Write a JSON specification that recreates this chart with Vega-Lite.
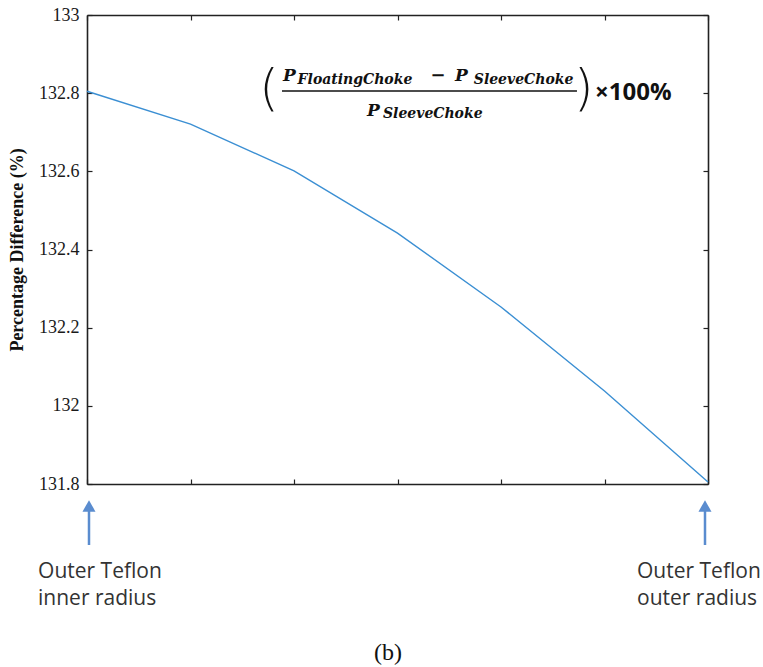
{
  "$schema": "https://vega.github.io/schema/vega-lite/v6.json",
  "autosize": {"type": "none"},
  "width": 621,
  "height": 469,
  "padding": {"left": 87, "top": 15, "right": 55, "bottom": 183},
  "background": "white",
  "config": {"view": {"stroke": null}},
  "datasets": {
    "series": [
      {"pos": 0, "pct": 132.805},
      {"pos": 1, "pct": 132.721},
      {"pos": 2, "pct": 132.601},
      {"pos": 3, "pct": 132.442},
      {"pos": 4, "pct": 132.253},
      {"pos": 5, "pct": 132.038},
      {"pos": 6, "pct": 131.805}
    ],
    "mainP": [
      {"x": 1.894, "y": 132.831, "t": "P"},
      {"x": 3.556, "y": 132.831, "t": "P"},
      {"x": 2.705, "y": 132.7416, "t": "P"}
    ],
    "minus": [{"x": 3.391, "y": 132.831, "t": "−"}],
    "subs": [
      {"x": 2.035, "y": 132.8235, "t": "FloatingChoke"},
      {"x": 3.737, "y": 132.8235, "t": "SleeveChoke"},
      {"x": 2.86, "y": 132.7365, "t": "SleeveChoke"}
    ],
    "frac": [{"x": 1.884, "x2": 4.734, "y": 132.8055}],
    "parens": [
      {"x": 1.758, "y": 132.7697, "t": "("},
      {"x": 4.8, "y": 132.7697, "t": ")"}
    ],
    "times": [{"x": 4.909, "y": 132.7825, "t": "×100%"}],
    "shafts": [
      {"x": 0.0193, "y": 131.6439, "y2": 131.7386},
      {"x": 5.971, "y": 131.6439, "y2": 131.7386}
    ],
    "heads": [
      {"x": 0.0193, "y": 131.7437},
      {"x": 5.971, "y": 131.7437}
    ],
    "labels": [
      {"x": -0.473, "y": 131.5595, "t": "Outer Teflon\ninner radius"},
      {"x": 5.314, "y": 131.5595, "t": "Outer Teflon\nouter radius"}
    ],
    "caption": [{"x": 2.908, "y": 131.3497, "t": "(b)"}]
  },
  "resolve": {"axis": {"x": "independent", "y": "independent"}},
  "layer": [
    {
      "data": {"name": "series"},
      "mark": {"type": "line", "color": "#3b8fd3", "strokeWidth": 1.4},
      "encoding": {
        "x": {"field": "pos", "type": "quantitative",
              "scale": {"domain": [0, 6], "nice": false, "zero": false},
              "axis": {"orient": "bottom", "values": [0,1,2,3,4,5,6], "labels": false, "title": null, "grid": false,
                       "domainColor": "#222", "domainWidth": 1.6, "tickColor": "#222", "tickSize": -5, "tickWidth": 1.2}},
        "y": {"field": "pct", "type": "quantitative",
              "scale": {"domain": [131.8, 133], "nice": false, "zero": false},
              "axis": {"orient": "left", "values": [131.8,132,132.2,132.4,132.6,132.8,133], "format": "~f", "grid": false,
                       "title": "Percentage Difference (%)", "titleFont": "Liberation Serif", "titleFontSize": 18, "titleFontWeight": "bold", "titleColor": "#111", "titlePadding": 12,
                       "labelFont": "Liberation Serif", "labelFontSize": 18, "labelColor": "#1a1a1a", "labelPadding": 13,
                       "domainColor": "#222", "domainWidth": 1.6, "tickColor": "#222", "tickSize": -5, "tickWidth": 1.2}}
      }
    },
    {
      "data": {"name": "series"},
      "mark": {"type": "line", "strokeOpacity": 0},
      "encoding": {
        "x": {"field": "pos", "type": "quantitative",
              "axis": {"orient": "top", "values": [0,1,2,3,4,5,6], "labels": false, "title": null, "grid": false,
                       "domainColor": "#222", "domainWidth": 1.6, "tickColor": "#222", "tickSize": -5, "tickWidth": 1.2}},
        "y": {"field": "pct", "type": "quantitative",
              "axis": {"orient": "right", "values": [131.8,132,132.2,132.4,132.6,132.8,133], "labels": false, "title": null, "grid": false,
                       "domainColor": "#222", "domainWidth": 1.6, "tickColor": "#222", "tickSize": -5, "tickWidth": 1.2}}
      }
    },
    {
      "data": {"name": "frac"},
      "mark": {"type": "rule", "color": "#111", "strokeWidth": 1.6},
      "encoding": {
        "x": {"field": "x", "type": "quantitative", "axis": null},
        "x2": {"field": "x2"},
        "y": {"field": "y", "type": "quantitative", "axis": null}
      }
    },
    {
      "data": {"name": "mainP"},
      "mark": {"type": "text", "font": "DejaVu Serif", "fontSize": 17, "fontWeight": "bold", "fontStyle": "italic", "align": "left", "baseline": "alphabetic", "color": "#111"},
      "encoding": {
        "x": {"field": "x", "type": "quantitative", "axis": null},
        "y": {"field": "y", "type": "quantitative", "axis": null},
        "text": {"field": "t", "type": "nominal"}
      }
    },
    {
      "data": {"name": "minus"},
      "mark": {"type": "text", "font": "DejaVu Serif", "fontSize": 18, "fontWeight": "bold", "align": "center", "baseline": "alphabetic", "color": "#111"},
      "encoding": {
        "x": {"field": "x", "type": "quantitative", "axis": null},
        "y": {"field": "y", "type": "quantitative", "axis": null},
        "text": {"field": "t", "type": "nominal"}
      }
    },
    {
      "data": {"name": "subs"},
      "mark": {"type": "text", "font": "DejaVu Serif", "fontSize": 14, "fontWeight": "bold", "fontStyle": "italic", "align": "left", "baseline": "alphabetic", "color": "#111"},
      "encoding": {
        "x": {"field": "x", "type": "quantitative", "axis": null},
        "y": {"field": "y", "type": "quantitative", "axis": null},
        "text": {"field": "t", "type": "nominal"}
      }
    },
    {
      "data": {"name": "parens"},
      "mark": {"type": "text", "font": "DejaVu Sans", "fontSize": 50, "fontWeight": 200, "align": "center", "baseline": "alphabetic", "color": "#111"},
      "encoding": {
        "x": {"field": "x", "type": "quantitative", "axis": null},
        "y": {"field": "y", "type": "quantitative", "axis": null},
        "text": {"field": "t", "type": "nominal"}
      }
    },
    {
      "data": {"name": "times"},
      "mark": {"type": "text", "font": "Open Sans", "fontSize": 24, "fontWeight": "bold", "align": "left", "baseline": "alphabetic", "color": "#111"},
      "encoding": {
        "x": {"field": "x", "type": "quantitative", "axis": null},
        "y": {"field": "y", "type": "quantitative", "axis": null},
        "text": {"field": "t", "type": "nominal"}
      }
    },
    {
      "data": {"name": "shafts"},
      "mark": {"type": "rule", "color": "#5a8ccf", "strokeWidth": 2.5},
      "encoding": {
        "x": {"field": "x", "type": "quantitative", "axis": null},
        "y": {"field": "y", "type": "quantitative", "axis": null},
        "y2": {"field": "y2"}
      }
    },
    {
      "data": {"name": "heads"},
      "mark": {"type": "point", "shape": "triangle-up", "filled": true, "size": 170, "color": "#5a8ccf", "opacity": 1},
      "encoding": {
        "x": {"field": "x", "type": "quantitative", "axis": null},
        "y": {"field": "y", "type": "quantitative", "axis": null}
      }
    },
    {
      "data": {"name": "labels"},
      "mark": {"type": "text", "font": "Open Sans", "fontSize": 21, "align": "left", "baseline": "alphabetic", "lineBreak": "\n", "lineHeight": 27, "color": "#333"},
      "encoding": {
        "x": {"field": "x", "type": "quantitative", "axis": null},
        "y": {"field": "y", "type": "quantitative", "axis": null},
        "text": {"field": "t", "type": "nominal"}
      }
    },
    {
      "data": {"name": "caption"},
      "mark": {"type": "text", "font": "Liberation Serif", "fontSize": 24, "align": "center", "baseline": "alphabetic", "color": "#111"},
      "encoding": {
        "x": {"field": "x", "type": "quantitative", "axis": null},
        "y": {"field": "y", "type": "quantitative", "axis": null},
        "text": {"field": "t", "type": "nominal"}
      }
    }
  ]
}
